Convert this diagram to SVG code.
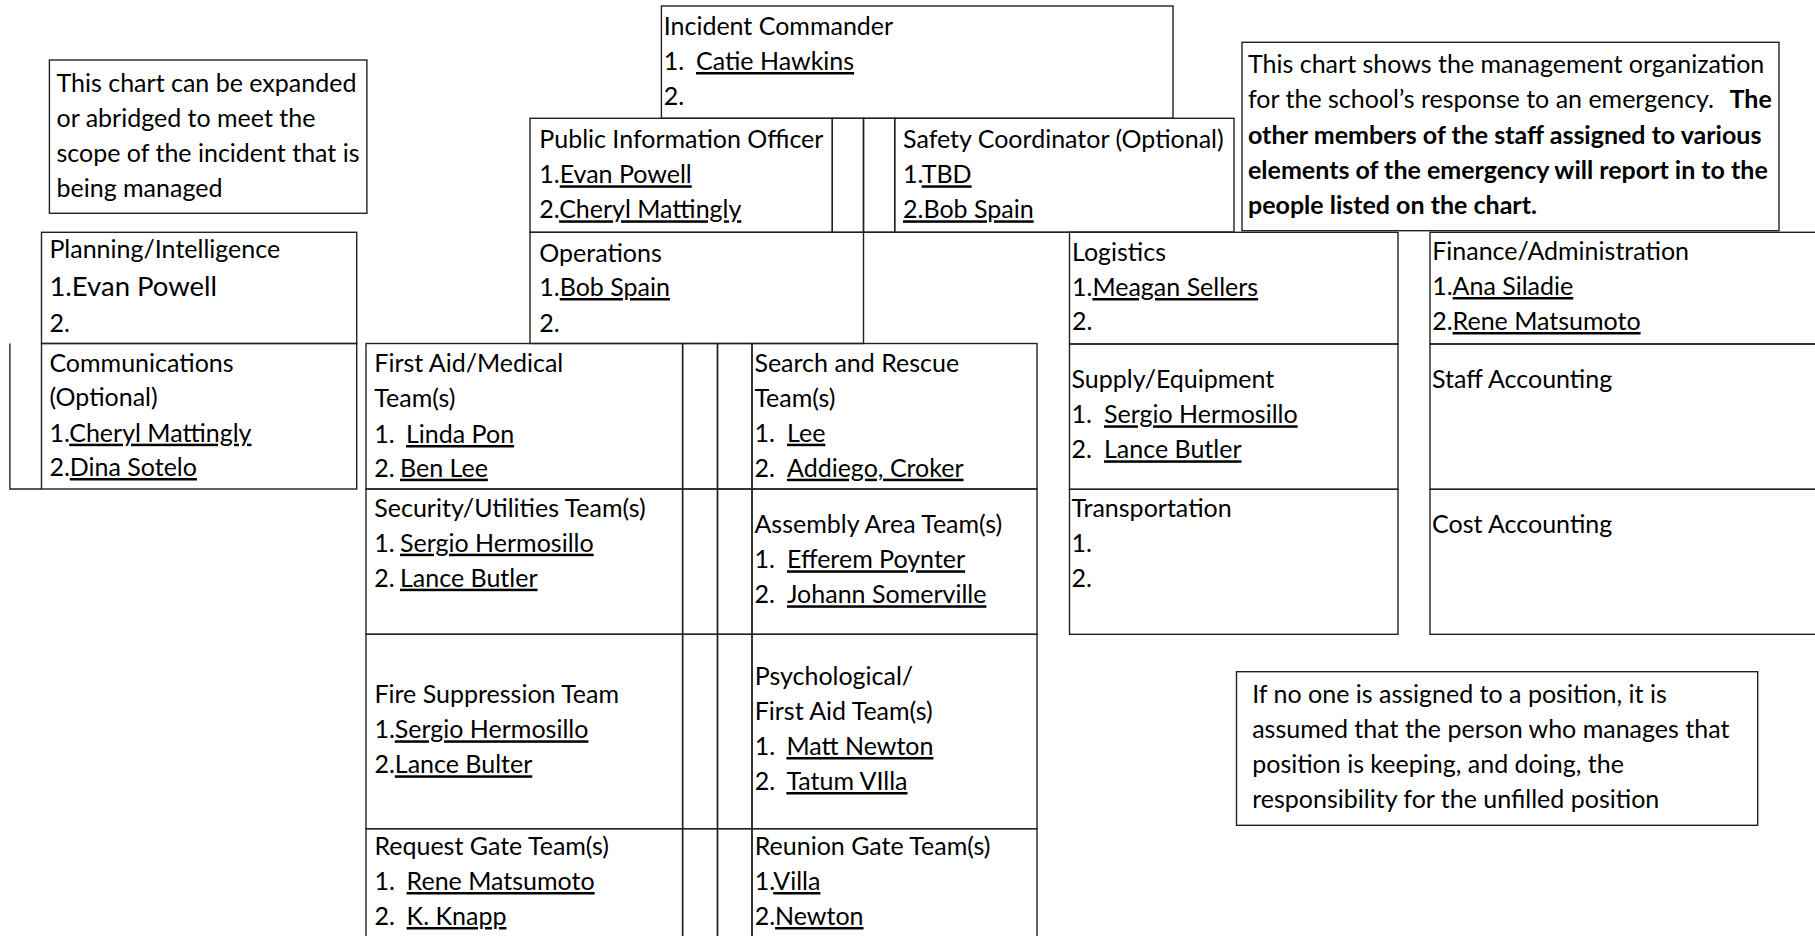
<svg xmlns="http://www.w3.org/2000/svg" width="1815" height="936" viewBox="0 0 1815 936">
<style>
.b{fill:none;stroke:#222;stroke-width:1.4}
.t{font-family:Lato,"Liberation Sans",sans-serif;font-size:25px;fill:#000}
.big{font-size:27.5px}
.u{text-decoration:underline}
.bd{font-weight:bold}
</style>
<rect width="1815" height="936" fill="#fff"/>
<g id="connectors"/>
<g id="note-left">
<rect class="b" x="49.4" y="60" width="317.5" height="153.3"/>
<text class="t" x="56.5" y="91.7">This chart can be expanded</text>
<text class="t" x="56.5" y="126.7">or abridged to meet the</text>
<text class="t" x="56.5" y="162">scope of the incident that is</text>
<text class="t" x="56.5" y="196.7">being managed</text>
</g>
<g id="incident-commander">
<rect class="b" x="661.4" y="6" width="511.6" height="112.3"/>
<text class="t" x="663.7" y="35">Incident Commander</text>
<text class="t" x="663.7" y="70">1.<tspan class="u" x="696">Catie Hawkins</tspan></text>
<text class="t" x="663.7" y="105">2.</text>
</g>
<g id="public-information-officer">
<rect class="b" x="530" y="118.3" width="302.3" height="114"/>
<text class="t" x="539.3" y="148.3">Public Information Officer</text>
<text class="t" x="539.3" y="183.3">1.<tspan class="u">Evan Powell</tspan></text>
<text class="t" x="539.3" y="218.3">2.<tspan class="u">Cheryl Mattingly</tspan></text>
</g>
<g id="spacer-top">
<rect class="b" x="832.3" y="118.3" width="31.2" height="114"/>
<rect class="b" x="863.5" y="118.3" width="31.2" height="114"/>
</g>
<g id="safety-coordinator">
<rect class="b" x="894.7" y="118.3" width="339.3" height="114"/>
<text class="t" x="903" y="148.3">Safety Coordinator (Optional)</text>
<text class="t" x="903" y="183.3">1.<tspan class="u">TBD</tspan></text>
<text class="t u" x="903" y="218.3">2.Bob Spain</text>
</g>
<g id="note-right">
<rect class="b" x="1242" y="42.3" width="537" height="188.4"/>
<text class="t" x="1248" y="72.7">This chart shows the management organization</text>
<text class="t" x="1248" y="108.3">for the school’s response to an emergency.<tspan class="bd" x="1729.5">The</tspan></text>
<text class="t bd" x="1248" y="144">other members of the staff assigned to various</text>
<text class="t bd" x="1248" y="179">elements of the emergency will report in to the</text>
<text class="t bd" x="1248" y="214">people listed on the chart.</text>
</g>
<g id="planning-intelligence">
<rect class="b" x="41.5" y="232.3" width="315.2" height="111.2"/>
<text class="t" x="49.4" y="258.3">Planning/Intelligence</text>
<text class="t big" x="49.4" y="296">1.Evan Powell</text>
<text class="t" x="49.4" y="332.3">2.</text>
</g>
<g id="communications">
<rect class="b" x="41.5" y="343.5" width="315.2" height="145.5"/>
<path class="b" d="M9.9 343.5V489H41.5"/>
<text class="t" x="49.4" y="371.7">Communications</text>
<text class="t" x="49.4" y="406">(Optional)</text>
<text class="t" x="49.4" y="441.7">1.<tspan class="u">Cheryl Mattingly</tspan></text>
<text class="t" x="49.4" y="476">2.<tspan class="u">Dina Sotelo</tspan></text>
</g>
<g id="operations">
<rect class="b" x="530" y="232.3" width="333.5" height="111.2"/>
<path class="b" d="M863.5 232.3H1234"/>
<text class="t" x="539.3" y="261.7">Operations</text>
<text class="t" x="539.3" y="296">1.<tspan class="u">Bob Spain</tspan></text>
<text class="t" x="539.3" y="331.7">2.</text>
</g>
<g id="logistics">
<rect class="b" x="1069.5" y="232.3" width="328.5" height="111.7"/>
<text class="t" x="1072" y="260.7">Logistics</text>
<text class="t" x="1072" y="296">1.<tspan class="u">Meagan Sellers</tspan></text>
<text class="t" x="1072" y="330">2.</text>
</g>
<g id="finance-administration">
<rect class="b" x="1430" y="232.3" width="400" height="111.7"/>
<text class="t" x="1432.2" y="260">Finance/Administration</text>
<text class="t" x="1432.2" y="295">1.<tspan class="u">Ana Siladie</tspan></text>
<text class="t" x="1432.2" y="330">2.<tspan class="u">Rene Matsumoto</tspan></text>
</g>
<g id="supply-equipment">
<rect class="b" x="1069.5" y="344" width="328.5" height="145.3"/>
<text class="t" x="1071.5" y="388.3">Supply/Equipment</text>
<text class="t" x="1071.5" y="423.3">1.<tspan class="u" x="1104">Sergio Hermosillo</tspan></text>
<text class="t" x="1071.5" y="458.3">2.<tspan class="u" x="1104">Lance Butler</tspan></text>
</g>
<g id="transportation">
<rect class="b" x="1069.5" y="489.3" width="328.5" height="145"/>
<text class="t" x="1071.5" y="516.7">Transportation</text>
<text class="t" x="1071.5" y="551.7">1.</text>
<text class="t" x="1071.5" y="586.7">2.</text>
</g>
<g id="staff-accounting">
<rect class="b" x="1430" y="344" width="400" height="145.3"/>
<text class="t" x="1432" y="388.3">Staff Accounting</text>
</g>
<g id="cost-accounting">
<rect class="b" x="1430" y="489.3" width="400" height="145"/>
<text class="t" x="1432" y="533.3">Cost Accounting</text>
</g>
<g id="first-aid-medical">
<rect class="b" x="366" y="343.5" width="316.6" height="145.5"/>
<text class="t" x="374.3" y="371.7">First Aid/Medical</text>
<text class="t" x="374.3" y="406.7">Team(s)</text>
<text class="t" x="374.3" y="443">1.<tspan class="u" x="406">Linda Pon</tspan></text>
<text class="t" x="374.3" y="476.7">2.<tspan class="u" x="400">Ben Lee</tspan></text>
</g>
<g id="spacers-team">
<rect class="b" x="682.6" y="343.5" width="34.9" height="145.5"/>
<rect class="b" x="717.5" y="343.5" width="34.5" height="145.5"/>
<rect class="b" x="682.6" y="489" width="34.9" height="145.3"/>
<rect class="b" x="717.5" y="489" width="34.5" height="145.3"/>
<rect class="b" x="682.6" y="634.3" width="34.9" height="194.4"/>
<rect class="b" x="717.5" y="634.3" width="34.5" height="194.4"/>
<rect class="b" x="682.6" y="828.7" width="34.9" height="130"/>
<rect class="b" x="717.5" y="828.7" width="34.5" height="130"/>
</g>
<g id="search-and-rescue">
<rect class="b" x="752" y="343.5" width="285" height="145.5"/>
<text class="t" x="754.4" y="371.7">Search and Rescue</text>
<text class="t" x="754.4" y="406.7">Team(s)</text>
<text class="t" x="754.4" y="441.7">1.<tspan class="u" x="787">Lee</tspan></text>
<text class="t" x="754.4" y="476.7">2.<tspan class="u" x="787">Addiego, Croker</tspan></text>
</g>
<g id="security-utilities">
<rect class="b" x="366" y="489" width="316.6" height="145.3"/>
<text class="t" x="374.3" y="516.7">Security/Utilities Team(s)</text>
<text class="t" x="374.3" y="551.7">1.<tspan class="u" x="400">Sergio Hermosillo</tspan></text>
<text class="t" x="374.3" y="586.7">2.<tspan class="u" x="400">Lance Butler</tspan></text>
</g>
<g id="assembly-area">
<rect class="b" x="752" y="489" width="285" height="145.3"/>
<text class="t" x="754.4" y="533.3">Assembly Area Team(s)</text>
<text class="t" x="754.4" y="568.3">1.<tspan class="u" x="787">Efferem Poynter</tspan></text>
<text class="t" x="754.4" y="603.3">2.<tspan class="u" x="787">Johann Somerville</tspan></text>
</g>
<g id="fire-suppression">
<rect class="b" x="366" y="634.3" width="316.6" height="194.4"/>
<text class="t" x="374.4" y="703.3">Fire Suppression Team</text>
<text class="t" x="374.4" y="738.3">1.<tspan class="u">Sergio Hermosillo</tspan></text>
<text class="t" x="374.4" y="773.3">2.<tspan class="u">Lance Bulter</tspan></text>
</g>
<g id="psychological-first-aid">
<rect class="b" x="752" y="634.3" width="285" height="194.4"/>
<text class="t" x="754.7" y="685">Psychological/</text>
<text class="t" x="754.7" y="720">First Aid Team(s)</text>
<text class="t" x="754.7" y="755">1.<tspan class="u" x="786.4">Matt Newton</tspan></text>
<text class="t" x="754.7" y="790">2.<tspan class="u" x="786.4">Tatum VIlla</tspan></text>
</g>
<g id="request-gate">
<rect class="b" x="366" y="828.7" width="316.6" height="130"/>
<text class="t" x="374.4" y="855">Request Gate Team(s)</text>
<text class="t" x="374.4" y="890">1.<tspan class="u" x="406.6">Rene Matsumoto</tspan></text>
<text class="t" x="374.4" y="925">2.<tspan class="u" x="406.6">K. Knapp</tspan></text>
</g>
<g id="reunion-gate">
<rect class="b" x="752" y="828.7" width="285" height="130"/>
<text class="t" x="754.7" y="855">Reunion Gate Team(s)</text>
<text class="t" x="754.7" y="890">1.<tspan class="u">Villa</tspan></text>
<text class="t" x="754.7" y="925">2.<tspan class="u">Newton</tspan></text>
</g>
<g id="note-bottom">
<rect class="b" x="1236.5" y="671.7" width="521.2" height="153.6"/>
<text class="t" x="1252.2" y="702.7">If no one is assigned to a position, it is</text>
<text class="t" x="1252.2" y="737.7">assumed that the person who manages that</text>
<text class="t" x="1252.2" y="772.7">position is keeping, and doing, the</text>
<text class="t" x="1252.2" y="807.7">responsibility for the unfilled position</text>
</g>
</svg>
